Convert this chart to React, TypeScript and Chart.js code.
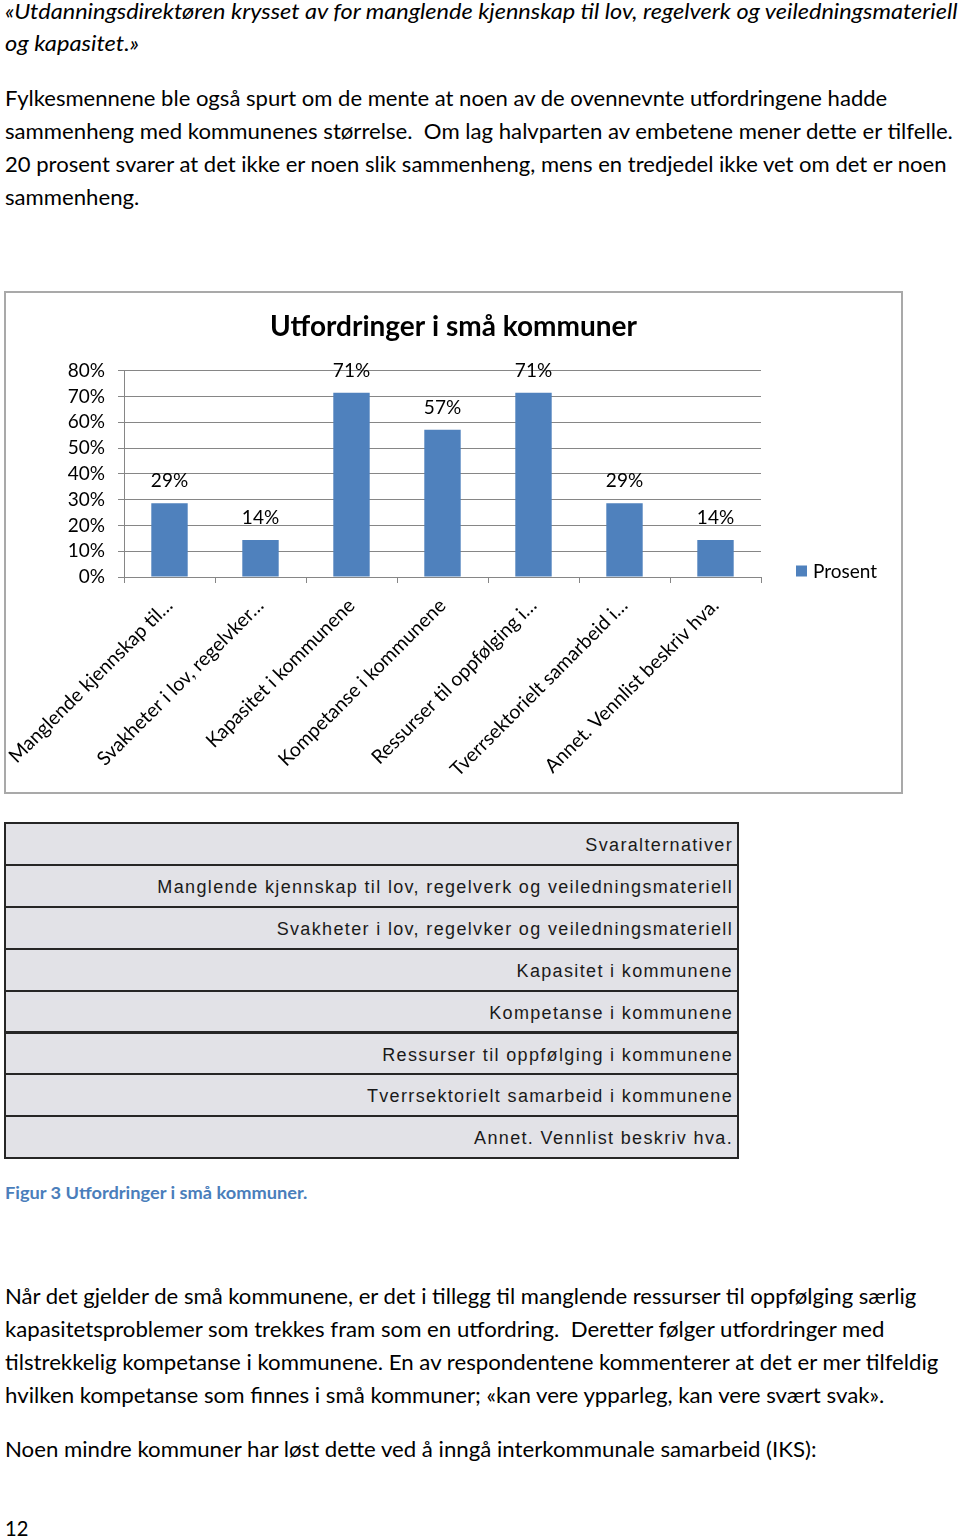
import React, { useEffect, useLayoutEffect, useRef, useState } from "react";
import { Chart, registerables } from "chart.js";

Chart.register(...registerables);

// ---------------- data ----------------
const CHART_TITLE = "Utfordringer i små kommuner";
const SERIES_NAME = "Prosent";
const AXIS_LABELS = [
  "Manglende kjennskap til…",
  "Svakheter i lov, regelvker…",
  "Kapasitet i kommunene",
  "Kompetanse i kommunene",
  "Ressurser til oppfølging i…",
  "Tverrsektorielt samarbeid i…",
  "Annet. Vennlist beskriv hva.",
];
const VALUES = [28.6, 14.3, 71.4, 57.1, 71.4, 28.6, 14.3];
const Y_MIN = 0;
const Y_MAX = 80;
const Y_STEP = 10;

const TABLE_HEADER = "Svaralternativer";
const TABLE_ROWS = [
  "Manglende kjennskap til lov, regelverk og veiledningsmateriell",
  "Svakheter i lov, regelvker og veiledningsmateriell",
  "Kapasitet i kommunene",
  "Kompetanse i kommunene",
  "Ressurser til oppfølging i kommunene",
  "Tverrsektorielt samarbeid i kommunene",
  "Annet. Vennlist beskriv hva.",
];
const CAPTION = "Figur 3 Utfordringer i små kommuner.";
const QUOTE_LINES = [
  "«Utdanningsdirektøren krysset av for manglende kjennskap til lov, regelverk og veiledningsmateriell",
  "og kapasitet.»",
];
const INTRO_LINES = [
  "Fylkesmennene ble også spurt om de mente at noen av de ovennevnte utfordringene hadde",
  "sammenheng med kommunenes størrelse.  Om lag halvparten av embetene mener dette er tilfelle.",
  "20 prosent svarer at det ikke er noen slik sammenheng, mens en tredjedel ikke vet om det er noen",
  "sammenheng.",
];
const AFTER_LINES = [
  "Når det gjelder de små kommunene, er det i tillegg til manglende ressurser til oppfølging særlig",
  "kapasitetsproblemer som trekkes fram som en utfordring.  Deretter følger utfordringer med",
  "tilstrekkelig kompetanse i kommunene. En av respondentene kommenterer at det er mer tilfeldig",
  "hvilken kompetanse som finnes i små kommuner; «kan vere ypparleg, kan vere svært svak».",
];
const LAST_LINE = "Noen mindre kommuner har løst dette ved å inngå interkommunale samarbeid (IKS):";
const PAGE_NUMBER = "12";

// ---------------- layout (not data) ----------------
const QUOTE_GEOM = [
  { cy: 10, w: 953 },
  { cy: 42, w: 134 },
];
const INTRO_GEOM = [
  { cy: 97, w: 882 },
  { cy: 130, w: 948 },
  { cy: 163, w: 942 },
  { cy: 196, w: 134 },
];
const AFTER_GEOM = [
  { cy: 1295, w: 911 },
  { cy: 1328, w: 879 },
  { cy: 1361, w: 933 },
  { cy: 1394, w: 879 },
];

const BAR_COLOR = "#4f81bd";
const GRID_COLOR = "#868686";
const FONT = "Lato";

type FitProps = {
  text: string;
  x: number;
  cy: number;
  w: number;
  size: number;
  italic?: boolean;
  bold?: boolean;
  color?: string;
};

function FitLine({ text, x, cy, w, size, italic, bold, color }: FitProps) {
  const ref = useRef<HTMLSpanElement>(null);
  const [scale, setScale] = useState(1);
  useLayoutEffect(() => {
    const el = ref.current;
    if (!el) return;
    const fit = () => {
      const nat = el.offsetWidth;
      if (nat > 0) setScale(w / nat);
    };
    fit();
    if ((document as any).fonts) (document as any).fonts.ready.then(fit);
  }, [text, w]);
  const lh = Math.round(size * 1.3);
  return (
    <span
      ref={ref}
      style={{
        position: "absolute",
        left: x,
        top: cy - lh / 2,
        height: lh,
        lineHeight: lh + "px",
        fontSize: size,
        fontFamily: FONT,
        fontStyle: italic ? "italic" : "normal",
        fontWeight: bold ? 700 : 400,
        color: color || "#000",
        whiteSpace: "pre",
        transform: `scaleX(${scale})`,
        transformOrigin: "left center",
        display: "inline-block",
      }}
    >
      {text}
    </span>
  );
}

const dataLabelPlugin = {
  id: "barValueLabels",
  afterDatasetsDraw(chart: any) {
    const ctx = chart.ctx;
    const meta = chart.getDatasetMeta(0);
    const data = chart.data.datasets[0].data as number[];
    ctx.save();
    ctx.font = `19px ${FONT}`;
    ctx.fillStyle = "#000";
    ctx.textAlign = "center";
    ctx.textBaseline = "middle";
    meta.data.forEach((bar: any, i: number) => {
      ctx.fillText(Math.round(data[i]) + "%", bar.x, bar.y - 22);
    });
    ctx.restore();
  },
};

const sideLegendPlugin = {
  id: "sideLegend",
  afterDraw(chart: any) {
    const { ctx, chartArea } = chart;
    const ds = chart.data.datasets[0];
    const x = chartArea.right + 35;
    const cy = chartArea.bottom - 6;
    ctx.save();
    ctx.fillStyle = ds.backgroundColor;
    ctx.fillRect(x, cy - 5.5, 11, 11);
    ctx.font = `19px ${FONT}`;
    ctx.fillStyle = "#000";
    ctx.textAlign = "left";
    ctx.textBaseline = "middle";
    ctx.fillText(ds.label, x + 17, cy + 1);
    ctx.restore();
  },
};

function BarChart() {
  const ref = useRef<HTMLCanvasElement>(null);
  useEffect(() => {
    if (!ref.current) return;
    const chart = new Chart(ref.current, {
      type: "bar",
      data: {
        labels: AXIS_LABELS,
        datasets: [
          {
            label: SERIES_NAME,
            data: VALUES,
            backgroundColor: BAR_COLOR,
            borderWidth: 0,
            categoryPercentage: 1,
            barPercentage: 0.4,
            yAxisID: "y",
          },
        ],
      },
      options: {
        animation: false,
        responsive: false,
        events: [],
        layout: { padding: 0 },
        plugins: {
          legend: { display: false },
          tooltip: { enabled: false },
          title: {
            display: true,
            text: CHART_TITLE,
            color: "#000",
            font: { family: FONT, size: 28, weight: "bold", lineHeight: 1.2 },
            padding: { top: 17, bottom: 27 },
          },
        },
        scales: {
          x: {
            offset: true,
            grid: {
              display: true,
              drawOnChartArea: false,
              drawTicks: true,
              tickLength: 6,
              color: GRID_COLOR,
              lineWidth: 1,
            },
            border: { display: true, color: GRID_COLOR, width: 1 },
            ticks: {
              autoSkip: false,
              minRotation: 45,
              maxRotation: 45,
              padding: 11,
              color: "#000",
              font: { family: FONT, size: 19.5 },
            },
            afterFit: (scale: any) => {
              scale.height = 215;
              scale.paddingLeft = 0;
              scale.paddingRight = 0;
            },
          },
          y: {
            min: Y_MIN,
            max: Y_MAX,
            grid: {
              color: GRID_COLOR,
              lineWidth: 1,
              drawTicks: true,
              tickLength: 6,
            },
            border: { display: true, color: GRID_COLOR, width: 1 },
            ticks: {
              stepSize: Y_STEP,
              autoSkip: false,
              padding: 13,
              color: "#000",
              font: { family: FONT, size: 19 },
              callback: (v: any) => v + "%",
            },
            afterFit: (scale: any) => {
              scale.width = 118;
            },
          },
          legendSpace: {
            type: "linear",
            position: "right",
            display: true,
            grid: { display: false, drawTicks: false },
            border: { display: false },
            ticks: { display: false },
            afterFit: (scale: any) => {
              scale.width = 140;
            },
          },
        },
      } as any,
      plugins: [dataLabelPlugin, sideLegendPlugin],
    });
    return () => chart.destroy();
  }, []);
  return <canvas ref={ref} width={895} height={499} style={{ display: "block" }} />;
}

export default function App() {
  const rowTop = 822;
  const rowStep = 41.9;
  const allRows = [TABLE_HEADER, ...TABLE_ROWS];
  return (
    <div
      style={{
        position: "absolute",
        left: 0,
        top: 0,
        width: 960,
        height: 1540,
        background: "#fff",
        overflow: "hidden",
        fontFamily: FONT,
      }}
    >
      {QUOTE_LINES.map((t, i) => (
        <FitLine key={"q" + i} text={t} x={5} cy={QUOTE_GEOM[i].cy} w={QUOTE_GEOM[i].w} size={21} italic />
      ))}
      {INTRO_LINES.map((t, i) => (
        <FitLine key={"i" + i} text={t} x={5} cy={INTRO_GEOM[i].cy} w={INTRO_GEOM[i].w} size={21} />
      ))}

      <div
        style={{
          position: "absolute",
          left: 4,
          top: 291,
          width: 899,
          height: 503,
          border: "2px solid #a9a9a9",
          boxSizing: "border-box",
          background: "#fff",
        }}
      >
        <BarChart />
      </div>

      {allRows.map((t, i) => (
        <div
          key={"r" + i}
          style={{
            position: "absolute",
            left: 4,
            top: rowTop + i * rowStep,
            width: 735,
            height: rowStep + 2,
            border: "2px solid #262626",
            boxSizing: "border-box",
            background: "#e2e2e7",
            textAlign: "right",
            paddingRight: 4,
            paddingTop: 2,
            fontFamily: "'Liberation Sans', Arial, sans-serif",
            fontSize: 18,
            letterSpacing: "1.35px",
            color: "#1a1a1a",
            lineHeight: rowStep - 2 + "px",
            whiteSpace: "nowrap",
          }}
        >
          {t}
        </div>
      ))}

      <FitLine text={CAPTION} x={5} cy={1193} w={302} size={17} bold color="#4a7ebb" />

      {AFTER_LINES.map((t, i) => (
        <FitLine key={"a" + i} text={t} x={5} cy={AFTER_GEOM[i].cy} w={AFTER_GEOM[i].w} size={21} />
      ))}
      <FitLine text={LAST_LINE} x={5} cy={1448} w={811} size={21} />
      <FitLine text={PAGE_NUMBER} x={5} cy={1527} w={23} size={21} />
    </div>
  );
}
